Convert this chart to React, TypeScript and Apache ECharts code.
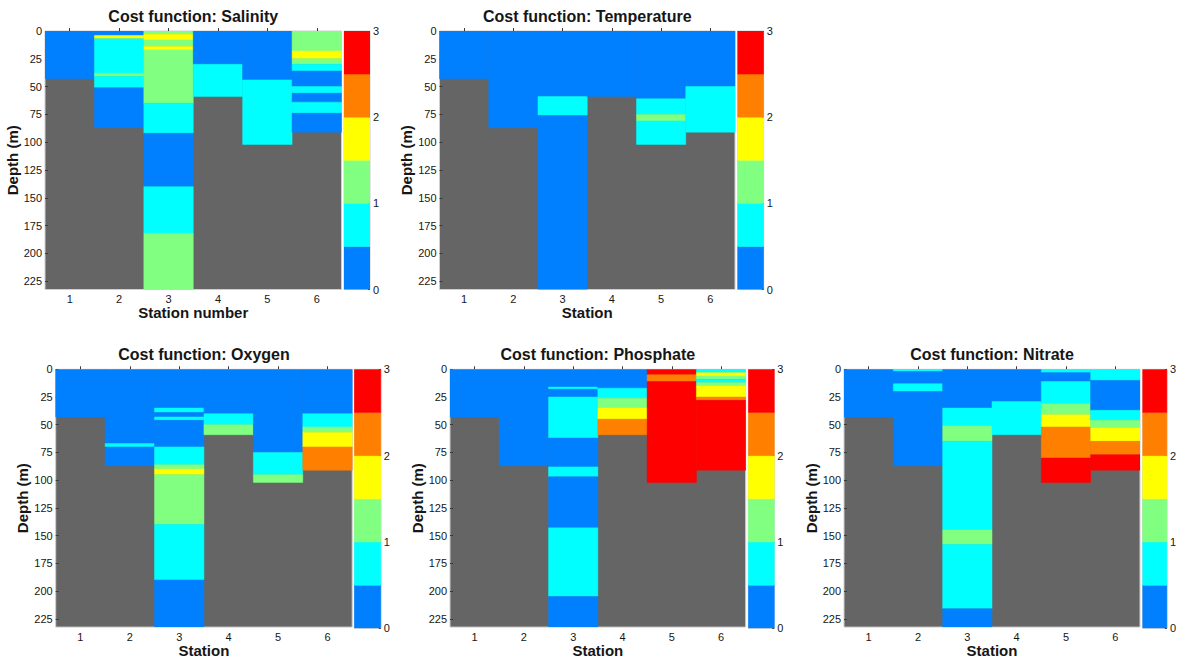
import React, { useEffect, useRef } from 'react';
import * as echarts from 'echarts';

// Station labels along the section
const stations = ['1', '2', '3', '4', '5', '6'];
const maxDepth = 232.5;

// Cost-function colour classes (edges and jet-style colours)
const costEdges = [0, 0.5, 1, 1.5, 2, 2.5, 3];
const costColors = ['#0080ff', '#00ffff', '#80ff80', '#ffff00', '#ff8000', '#ff0000'];
const seafloorColor = '#656565';

// Each cell: [station, top depth (m), bottom depth (m), cost]
const salinityCells = [
  [1, 0, 43, 0.25],
  [2, 0, 4, 0.25], [2, 4, 7, 1.75], [2, 7, 38, 0.75], [2, 38, 41, 1.25], [2, 41, 51, 0.75], [2, 51, 87, 0.25],
  [3, 0, 3, 1.25], [3, 3, 8, 1.75], [3, 8, 14, 1.25], [3, 14, 17, 1.75], [3, 17, 65, 1.25], [3, 65, 92, 0.75],
  [3, 92, 140, 0.25], [3, 140, 182, 0.75], [3, 182, 232.5, 1.25],
  [4, 0, 30, 0.25], [4, 30, 59, 0.75],
  [5, 0, 44, 0.25], [5, 44, 102, 0.75],
  [6, 0, 18, 1.25], [6, 18, 25, 1.75], [6, 25, 30, 1.25], [6, 30, 36, 0.75], [6, 36, 50, 0.25], [6, 50, 56, 0.75],
  [6, 56, 64, 0.25], [6, 64, 74, 0.75], [6, 74, 91, 0.25],
];

const temperatureCells = [
  [1, 0, 43, 0.25],
  [2, 0, 87, 0.25],
  [3, 0, 59, 0.25], [3, 59, 76, 0.75], [3, 76, 232.5, 0.25],
  [4, 0, 59, 0.25],
  [5, 0, 61, 0.25], [5, 61, 75, 0.75], [5, 75, 81, 1.25], [5, 81, 102, 0.75],
  [6, 0, 50, 0.25], [6, 50, 91, 0.75],
];

const oxygenCells = [
  [1, 0, 43, 0.25],
  [2, 0, 67, 0.25], [2, 67, 70, 0.75], [2, 70, 87, 0.25],
  [3, 0, 35, 0.25], [3, 35, 39, 0.75], [3, 39, 43, 0.25], [3, 43, 46, 0.75], [3, 46, 70, 0.25], [3, 70, 86, 0.75],
  [3, 86, 90, 1.25], [3, 90, 95, 1.75], [3, 95, 140, 1.25], [3, 140, 190, 0.75], [3, 190, 232.5, 0.25],
  [4, 0, 40, 0.25], [4, 40, 50, 0.75], [4, 50, 59, 1.25],
  [5, 0, 75, 0.25], [5, 75, 95, 0.75], [5, 95, 102, 1.25],
  [6, 0, 40, 0.25], [6, 40, 52, 0.75], [6, 52, 57, 1.25], [6, 57, 70, 1.75], [6, 70, 91, 2.25],
];

const phosphateCells = [
  [1, 0, 43, 0.25],
  [2, 0, 87, 0.25],
  [3, 0, 16, 0.25], [3, 16, 18, 0.75], [3, 18, 25, 0.25], [3, 25, 62, 0.75], [3, 62, 88, 0.25], [3, 88, 97, 0.75],
  [3, 97, 143, 0.25], [3, 143, 205, 0.75], [3, 205, 232.5, 0.25],
  [4, 0, 17, 0.25], [4, 17, 26, 0.75], [4, 26, 35, 1.25], [4, 35, 45, 1.75], [4, 45, 59, 2.25],
  [5, 0, 5, 2.75], [5, 5, 11, 2.25], [5, 11, 102, 2.75],
  [6, 0, 3, 0.75], [6, 3, 6, 1.75], [6, 6, 9, 1.25], [6, 9, 12, 0.75], [6, 12, 15, 1.25], [6, 15, 25, 1.75],
  [6, 25, 28, 2.25], [6, 28, 91, 2.75],
];

const nitrateCells = [
  [1, 0, 43, 0.25],
  [2, 0, 2, 0.75], [2, 2, 13, 0.25], [2, 13, 20, 0.75], [2, 20, 87, 0.25],
  [3, 0, 35, 0.25], [3, 35, 51, 0.75], [3, 51, 65, 1.25], [3, 65, 145, 0.75], [3, 145, 158, 1.25],
  [3, 158, 216, 0.75], [3, 216, 232.5, 0.25],
  [4, 0, 29, 0.25], [4, 29, 59, 0.75],
  [5, 0, 3, 0.75], [5, 3, 11, 0.25], [5, 11, 31, 0.75], [5, 31, 41, 1.25], [5, 41, 52, 1.75], [5, 52, 80, 2.25],
  [5, 80, 102, 2.75],
  [6, 0, 10, 0.75], [6, 10, 37, 0.25], [6, 37, 46, 0.75], [6, 46, 53, 1.25], [6, 53, 65, 1.75], [6, 65, 77, 2.25],
  [6, 77, 91, 2.75],
];

const FONT = '"Liberation Sans", Arial, Helvetica, sans-serif';
const TEXT = '#161616';

const panels = [
  { title: 'Cost function: Salinity', xName: 'Station number', cells: salinityCells,
    left: 45, top: 31, width: 296.5, height: 258.5, barLeft: 344, barWidth: 26 },
  { title: 'Cost function: Temperature', xName: 'Station', cells: temperatureCells,
    left: 439.5, top: 31, width: 295.5, height: 258.5, barLeft: 737.7, barWidth: 26 },
  { title: 'Cost function: Oxygen', xName: 'Station', cells: oxygenCells,
    left: 55.7, top: 369.3, width: 296.5, height: 259, barLeft: 354.3, barWidth: 26.5 },
  { title: 'Cost function: Phosphate', xName: 'Station', cells: phosphateCells,
    left: 450, top: 369.3, width: 295.7, height: 259, barLeft: 748.3, barWidth: 26 },
  { title: 'Cost function: Nitrate', xName: 'Station', cells: nitrateCells,
    left: 844, top: 369.3, width: 296, height: 259, barLeft: 1142.7, barWidth: 26 },
];

function colorOf(cost: number): string {
  for (let i = 0; i < costColors.length; i++) {
    if (cost < costEdges[i + 1]) return costColors[i];
  }
  return costColors[costColors.length - 1];
}

function cellRenderer(params: any, api: any) {
  const x = api.value(0);
  const a = api.coord([x, api.value(1)]);
  const b = api.coord([x, api.value(2)]);
  const w = api.size([1, 0])[0];
  const fill = colorOf(api.value(3));
  return {
    type: 'rect',
    shape: { x: a[0] - w / 2, y: a[1], width: w, height: b[1] - a[1] },
    style: { fill, stroke: fill, lineWidth: 0.5 },
  };
}

function buildOption() {
  const grid: any[] = [];
  const xAxis: any[] = [];
  const yAxis: any[] = [];
  const series: any[] = [];
  const graphic: any[] = [];

  const colorbarCells = costColors.map((_, i) => [0, costEdges[i], costEdges[i + 1], (costEdges[i] + costEdges[i + 1]) / 2]);

  panels.forEach((p, i) => {
    const gi = i * 2;
    const bi = i * 2 + 1;

    // section plot
    grid.push({
      left: p.left, top: p.top, width: p.width, height: p.height,
      show: true, backgroundColor: seafloorColor, borderColor: '#cfcfcf', borderWidth: 1,
    });
    xAxis.push({
      type: 'category', gridIndex: gi, data: stations, boundaryGap: true,
      axisLine: { show: false },
      axisTick: { show: true, inside: true, length: 3, alignWithLabel: true, lineStyle: { color: '#3a3a3a' } },
      axisLabel: { fontSize: 11, color: TEXT, fontFamily: FONT, margin: 4 },
      name: p.xName, nameLocation: 'middle', nameGap: 12,
      nameTextStyle: { fontSize: 15, fontWeight: 'bold', color: TEXT, fontFamily: FONT },
      splitLine: { show: false },
    });
    yAxis.push({
      type: 'value', gridIndex: gi, inverse: true, min: 0, max: maxDepth, interval: 25,
      axisLine: { show: false },
      axisTick: { show: true, inside: true, length: 3, lineStyle: { color: '#3a3a3a' } },
      axisLabel: {
        fontSize: 11, color: TEXT, fontFamily: FONT, margin: 3, showMaxLabel: false,
        formatter: (v: number) => (v % 25 === 0 ? String(v) : ''),
      },
      splitLine: { show: false },
      name: 'Depth (m)', nameLocation: 'middle', nameGap: 23,
      nameTextStyle: { fontSize: 15, fontWeight: 'bold', color: TEXT, fontFamily: FONT },
    });
    series.push({
      type: 'custom', xAxisIndex: gi, yAxisIndex: gi, clip: true,
      data: p.cells.map(([s, t, b, c]) => [s - 1, t, b, c]),
      encode: { x: 0, y: [1, 2] },
      renderItem: cellRenderer,
      silent: true,
    });

    // colour bar
    grid.push({
      left: p.barLeft, top: p.top, width: p.barWidth, height: p.height,
      show: true, backgroundColor: '#ffffff', borderColor: '#cfcfcf', borderWidth: 1,
    });
    xAxis.push({
      type: 'category', gridIndex: bi, data: [''], show: false,
    });
    yAxis.push({
      type: 'value', gridIndex: bi, min: 0, max: 3, interval: 1, position: 'right',
      axisLine: { show: false },
      axisTick: { show: true, inside: true, length: 2, lineStyle: { color: '#3a3a3a' } },
      axisLabel: { fontSize: 11, color: TEXT, fontFamily: FONT, margin: 3 },
      splitLine: { show: false },
    });
    series.push({
      type: 'custom', xAxisIndex: bi, yAxisIndex: bi, clip: true,
      data: colorbarCells,
      encode: { x: 0, y: [1, 2] },
      renderItem: cellRenderer,
      silent: true,
    });

    graphic.push({
      type: 'text',
      x: p.left + p.width / 2,
      y: p.top - 15,
      style: {
        text: p.title, fill: TEXT, font: `bold 16px ${FONT}`,
        textAlign: 'center', textVerticalAlign: 'middle',
      },
    });
  });

  return { animation: false, backgroundColor: '#ffffff', grid, xAxis, yAxis, series, graphic };
}

export default function App() {
  const ref = useRef<HTMLDivElement>(null);

  useEffect(() => {
    document.body.style.margin = '0';
    if (!ref.current) return;
    const chart = echarts.init(ref.current, undefined, { renderer: 'svg' });
    chart.setOption(buildOption());
    return () => chart.dispose();
  }, []);

  return (
    <div
      ref={ref}
      style={{ position: 'absolute', left: 0, top: 0, width: 1179, height: 659, background: '#fff' }}
    />
  );
}
